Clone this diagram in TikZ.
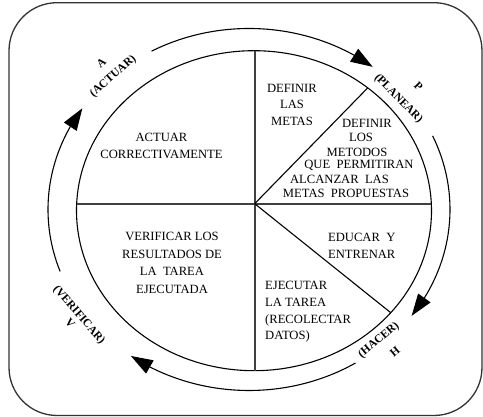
\documentclass[tikz,border=0pt]{standalone}
\usepackage{fontspec}
\setmainfont{Liberation Serif}
\usetikzlibrary{arrows.meta,bending,intersections}
\begin{document}
\begin{tikzpicture}[x=1pt,y=1pt,
  body/.style={font=\fontsize{12.6}{17}\selectfont, inner sep=0pt, align=center},
  lbl/.style={font=\bfseries\fontsize{11.5}{13}\selectfont, inner sep=0pt, align=center},
  cyc/.style={line width=1.1pt, -{Triangle[length=22pt,width=15pt]}},
  thin/.style={line width=1.1pt},
  axis/.style={line width=1.8pt, draw=black!75}
]
\useasboundingbox (0,0) rectangle (483,417);
% frame
\draw[line width=1.3pt, draw=black!80, rounded corners=48pt] (9,1.5) rectangle (482,414.3);
% outer cycle arrows
\coordinate (Co) at (249,207.5);
\draw[cyc] ([shift={(119:201pt and 181pt)}]Co) arc[start angle=119, end angle=52, x radius=201pt, y radius=181pt];
\draw[cyc] ([shift={(24:201pt and 181pt)}]Co) arc[start angle=24, end angle=-36, x radius=201pt, y radius=181pt];
\draw[cyc] ([shift={(-58:201pt and 181pt)}]Co) arc[start angle=-58, end angle=-126, x radius=201pt, y radius=181pt];
\draw[cyc] ([shift={(200:201pt and 181pt)}]Co) arc[start angle=200, end angle=146, x radius=201pt, y radius=181pt];
% inner ellipse
\draw[thin, name path=ell] (254,206.3) ellipse [x radius=177.5pt, y radius=160pt];
\coordinate (O) at (254.7,213.3);
\coordinate (L) at (76.6,213.3);
\coordinate (R) at (431.3,213.3);
\coordinate (T) at (254.7,366.3);
\coordinate (B) at (254.7,46.3);
\path[name path=d1] (O) -- ++(45.7:220);
\path[name path=d2] (O) -- ++(-38.7:220);
\path[name intersections={of=ell and d1, by=D1}];
\path[name intersections={of=ell and d2, by=D2}];
\draw[axis] (L) -- (R);
\draw[axis] (T) -- (B);
\draw[thin] (O) -- (D1);
\draw[thin] (O) -- (D2);
% texts
\node[body] (actuar) at (161.5,271.5) {ACTUAR\\CORRECTIVAMENTE};
\node[body, font=\fontsize{12.6}{16.5}\selectfont] (metas) at (292,312.5) {DEFINIR\\LAS\\METAS};
\node[body, font=\fontsize{12.6}{17.5}\selectfont] (verif) at (172,154) {VERIFICAR LOS\\RESULTADOS DE\\LA\ \ TAREA\\EJECUTADA};
\node[body, align=left, anchor=west] (educar) at (328,171.5) {EDUCAR\ \ Y\\ENTRENAR};
\node[body, align=left, anchor=west, font=\fontsize{12.6}{16.7}\selectfont] (ejec) at (265,105) {EJECUTAR\\LA TAREA\\(RECOLECTAR\\DATOS)};
\node[body] (m1) at (367,294) {DEFINIR};
\node[body] (m2) at (361,280) {LOS};
\node[body] (m3) at (357,265) {METODOS};
\node[body] (m4) at (359,252) {QUE\ \ PERMITIRAN};
\node[body] (m5) at (339.5,238) {ALCANZAR\ \ LAS};
\node[body] (m6) at (346,224) {METAS\ \ PROPUESTAS};
% cycle labels
\node[lbl, rotate=41, font=\bfseries\fontsize{11.5}{17}\selectfont] (lactuar) at (107.7,346.7) {A\\(ACTUAR)};
\node[lbl, rotate=-45, font=\bfseries\fontsize{11.5}{22}\selectfont] (lplanear) at (406,326) {\hspace*{11pt}P\\(PLANEAR)};
\node[lbl, rotate=40, font=\bfseries\fontsize{11.5}{20}\selectfont] (lhacer) at (384.5,70) {(HACER)\\\hspace*{10pt}H};
\node[lbl, rotate=-49, font=\bfseries\fontsize{11.5}{12.5}\selectfont] (lverif) at (75,98.3) {(VERIFICAR)\\V};
\end{tikzpicture}
\end{document}
